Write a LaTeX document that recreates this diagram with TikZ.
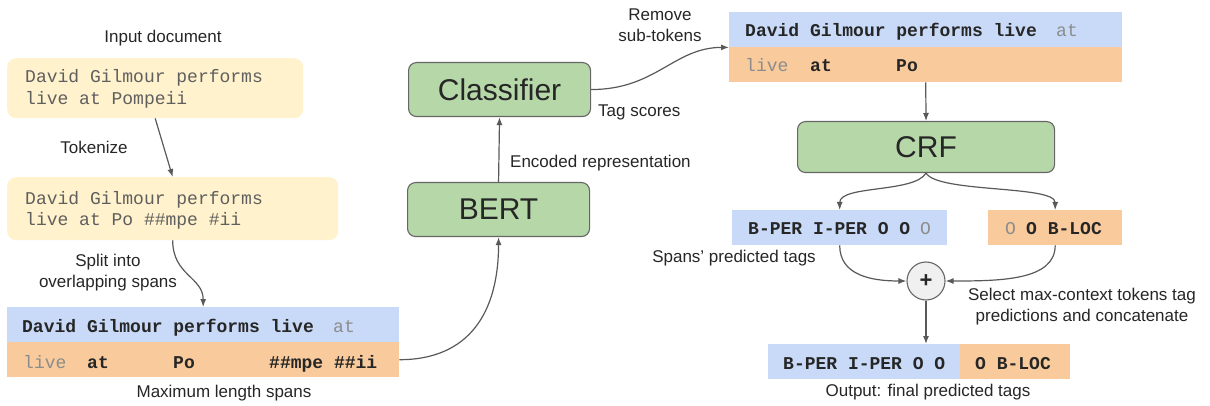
\documentclass[tikz,border=0pt]{standalone}
\usepackage{fontspec}
\setmainfont{Liberation Sans}
\newfontfamily\mono{Liberation Mono}
\usetikzlibrary{arrows.meta}
\definecolor{yel}{HTML}{FFF2CC}
\definecolor{blu}{HTML}{C9DAF8}
\definecolor{org}{HTML}{F9CB9C}
\definecolor{grn}{HTML}{B6D7A8}
\definecolor{bord}{HTML}{666666}
\definecolor{arrc}{HTML}{595959}
\definecolor{txt}{HTML}{262626}
\definecolor{ytxt}{HTML}{5F5F5F}
\definecolor{ltxt}{HTML}{8C8C8C}
\begin{document}
\begin{tikzpicture}[x=1pt,y=-1pt,
 lbl/.style={font=\fontsize{17}{21}\selectfont, text=txt, inner sep=0, align=center},
 ybox/.style={fill=yel, rounded corners=9pt, inner sep=0, anchor=north west},
 row/.style={inner sep=0, anchor=north west},
 gbox/.style={draw=bord, fill=grn, rounded corners=8pt, line width=1.1pt, inner sep=0, font=\fontsize{30}{36}\selectfont, text=txt, anchor=north west},
 ytx/.style={font=\mono\fontsize{18}{21.5}\selectfont, text=ytxt, inner sep=0, align=left, anchor=west},
 tk/.style={font=\mono\bfseries\fontsize{18}{22}\selectfont, text=txt, inner sep=0, anchor=base west},
 gt/.style={font=\mono\fontsize{18}{22}\selectfont, text=ltxt, inner sep=0, anchor=base west},
 arr/.style={draw=arrc, line width=1.2pt, -{Latex[length=8pt,width=6pt]}},
]
\useasboundingbox (0,0) rectangle (1210,406);

% ---------- left column ----------
\node[lbl] (inlbl) at (163,38) {Input document};
\node[ybox, minimum width=296, minimum height=60] (inbox) at (7,58) {};
\node[ytx] (intxt) at (25,89) {David Gilmour performs\\live at Pompeii};

\node[lbl] (toklbl) at (94,147) {Tokenize};
\node[ybox, minimum width=331, minimum height=63] (tokbox) at (7,177) {};
\node[ytx] (toktxt) at (25,210.5) {David Gilmour performs\\live at Po \#\#mpe \#ii};

\node[lbl] (splbl) at (108,272.5) {Split into\\overlapping spans};

\node[row, fill=blu, minimum width=392, minimum height=35] (s1) at (7,307) {};
\node[row, fill=org, minimum width=392, minimum height=35] (s2) at (7,342) {};
\node[tk] (s1a) at (22,332) {David Gilmour performs live};
\node[gt] (s1b) at (333,332) {at};
\node[gt] (s2a) at (23,368) {live};
\node[tk] (s2b) at (87,368) {at};
\node[tk] (s2c) at (173,368) {Po};
\node[tk] (s2d) at (269,368) {\#\#mpe \#\#ii};
\node[lbl] (maxlbl) at (224,393) {Maximum length spans};

% ---------- middle ----------
\node[gbox, minimum width=182, minimum height=54] (bert) at (407,182) {BERT};
\node[gbox, minimum width=182, minimum height=54] (cls) at (408,62) {Classifier};
\node[lbl, anchor=west] (enclbl) at (510,163) {Encoded representation};
\node[lbl, anchor=west] (taglbl) at (598,112) {Tag scores};
\node[lbl] (remlbl) at (660,25) {Remove\\sub-tokens};

% ---------- right ----------
\node[row, fill=blu, minimum width=393, minimum height=35] (t1) at (729,12) {};
\node[row, fill=org, minimum width=393, minimum height=35] (t2) at (729,47) {};
\node[tk] (t1a) at (745,37) {David Gilmour performs live};
\node[gt] (t1b) at (1056,37) {at};
\node[gt] (t2a) at (745,72) {live};
\node[tk] (t2b) at (810,72) {at};
\node[tk] (t2c) at (896,72) {Po};

\node[gbox, minimum width=257, minimum height=51] (crf) at (797,121) {CRF};

\node[row, fill=blu, minimum width=215, minimum height=35] (pl) at (732,210) {};
\node[tk] (pla) at (748,234) {B-PER I-PER O O};
\node[gt] (plb) at (920,234) {O};
\node[row, fill=org, minimum width=134, minimum height=35] (pr) at (988,210) {};
\node[gt] (pra) at (1005,234) {O};
\node[tk] (prb) at (1026,234) {O B-LOC};
\node[lbl] (spanlbl) at (734,258) {Spans’ predicted tags};

\node[circle, draw=bord, fill=black!6, line width=1.1pt, minimum size=38, inner sep=0,
      font=\bfseries\fontsize{22}{22}\selectfont, text=txt] (plus) at (926,281) {+};
\node[lbl] (sellbl) at (1082,307) {Select max-context tokens tag\\predictions and concatenate};

\node[row, fill=blu, minimum width=192, minimum height=35] (o1) at (768,344) {};
\node[row, fill=org, minimum width=110, minimum height=35] (o2) at (960,344) {};
\node[tk] (o1a) at (783,369) {B-PER I-PER O O};
\node[tk] (o2a) at (975,369) {O B-LOC};
\node[lbl] (outlbl) at (928,392) {Output: final predicted tags};

% ---------- connectors ----------
\draw[arr] (inbox.south) -- (tokbox.north);
\draw[arr] (tokbox.south) .. controls +(0,35) and +(0,-30) .. (s1.north);
\draw[arr] (s2.east) .. controls +(70,0) and +(0,75) .. (bert.south);
\draw[arr] (bert.north) -- (cls.south);
\draw[arr] (cls.east) .. controls +(65,0) and +(-55,0) .. (t1.south west);
\draw[arr] (t2.south) -- (crf.north);
\draw[arr] (crf.south) .. controls +(-12,20) and +(0,-25) .. (pl.north);
\draw[arr] (crf.south) .. controls +(12,20) and +(0,-25) .. (pr.north);
\draw[arr] (pl.south) .. controls +(0,30) and +(-35,0) .. (plus.west);
\draw[arr] (pr.south) .. controls +(0,35) and +(55,0) .. (plus.east);
\draw[arr] (plus.south) -- (plus.south |- o1.north);
\end{tikzpicture}
\end{document}
